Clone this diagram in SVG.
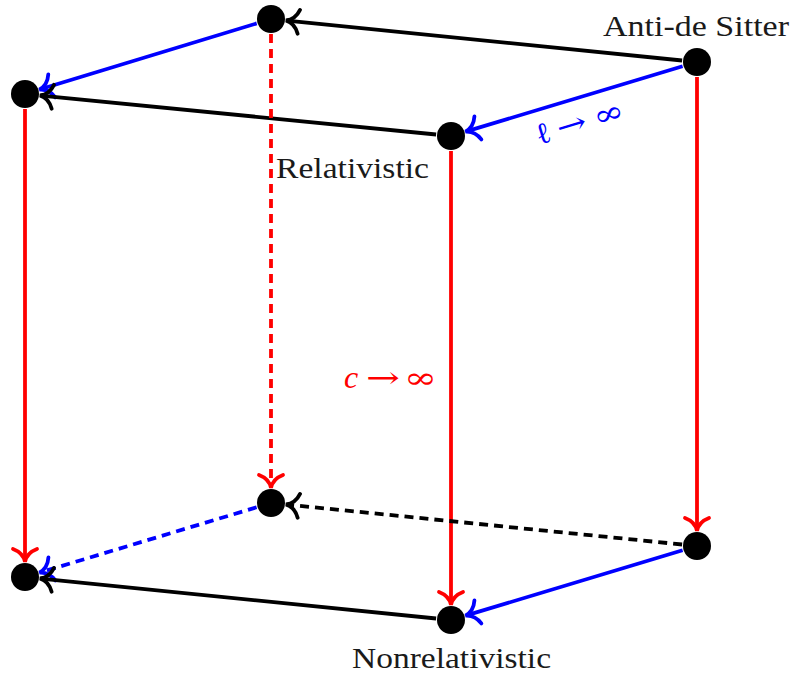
<svg xmlns="http://www.w3.org/2000/svg" width="792" height="675" viewBox="0 0 792 675">
<style>
.e{fill:none;stroke-width:3.8}
.k{stroke:#000}
.b{stroke:#0000ff}
.r{stroke:#ff0000}
.d{stroke-dasharray:9,6}
.n{fill:#000}
.t{font-family:"Liberation Serif","DejaVu Serif",serif;font-size:29px;fill:#1a1a1a}
.m{font-family:"DejaVu Serif","Liberation Serif",serif;font-size:30px}
</style>
<defs>
<marker id="mk" viewBox="-18 -16 22 32" markerWidth="22" markerHeight="32" refX="0" refY="0" orient="auto" markerUnits="userSpaceOnUse"><path d="M-12,-12 C-9,-4 -4,-1 1,0 C-4,1 -9,4 -12,12" fill="none" stroke="#000" stroke-width="3.8" stroke-linecap="round"/></marker>
<marker id="mb" viewBox="-18 -16 22 32" markerWidth="22" markerHeight="32" refX="0" refY="0" orient="auto" markerUnits="userSpaceOnUse"><path d="M-12,-12 C-9,-4 -4,-1 1,0 C-4,1 -9,4 -12,12" fill="none" stroke="#0000ff" stroke-width="3.8" stroke-linecap="round"/></marker>
<marker id="mr" viewBox="-18 -16 22 32" markerWidth="22" markerHeight="32" refX="0" refY="0" orient="auto" markerUnits="userSpaceOnUse"><path d="M-12,-12 C-9,-4 -4,-1 1,0 C-4,1 -9,4 -12,12" fill="none" stroke="#ff0000" stroke-width="3.8" stroke-linecap="round"/></marker>
</defs>
<g id="connectors">
<line class="e k" x1="682.1" y1="60.5" x2="286.9" y2="20.6" marker-end="url(#mk)"/>
<line class="e b" x1="256.7" y1="23.4" x2="40.3" y2="89.3" marker-end="url(#mb)"/>
<line class="e k" x1="436.1" y1="134.5" x2="40.9" y2="95.6" marker-end="url(#mk)"/>
<line class="e b" x1="682.6" y1="66.3" x2="466.4" y2="131.4" marker-end="url(#mb)"/>
<line class="e r d" x1="271" y1="34" x2="271" y2="487" marker-end="url(#mr)"/>
<line class="e r" x1="25" y1="109" x2="25" y2="561" marker-end="url(#mr)"/>
<line class="e r" x1="451" y1="151" x2="451" y2="604" marker-end="url(#mr)"/>
<line class="e r" x1="697" y1="77" x2="697" y2="530" marker-end="url(#mr)"/>
<line class="e k d" x1="682.1" y1="544.5" x2="286.9" y2="504.6" marker-end="url(#mk)"/>
<line class="e b d" x1="256.6" y1="507.3" x2="40.4" y2="572.4" marker-end="url(#mb)"/>
<line class="e k" x1="436.1" y1="618.5" x2="40.9" y2="578.6" marker-end="url(#mk)"/>
<line class="e b" x1="682.6" y1="550.3" x2="466.4" y2="615.4" marker-end="url(#mb)"/>
</g>
<g id="n1"><circle class="n" cx="271" cy="19" r="14"/></g>
<g id="n2"><circle class="n" cx="697" cy="62" r="14"/><text class="t" x="603" y="36" textLength="186" lengthAdjust="spacingAndGlyphs">Anti-de Sitter</text></g>
<g id="n3"><circle class="n" cx="25" cy="94" r="14"/></g>
<g id="n4"><circle class="n" cx="451" cy="136" r="14"/><text class="t" x="276" y="178" textLength="153" lengthAdjust="spacingAndGlyphs">Relativistic</text></g>
<g id="n5"><circle class="n" cx="271" cy="503" r="14"/></g>
<g id="n6"><circle class="n" cx="697" cy="546" r="14"/></g>
<g id="n7"><circle class="n" cx="25" cy="577" r="14"/></g>
<g id="n8"><circle class="n" cx="451" cy="620" r="14"/><text class="t" x="352" y="668" textLength="199" lengthAdjust="spacingAndGlyphs">Nonrelativistic</text></g>
<g id="labels">
<text y="388" fill="#ff0000"><tspan x="344" font-family="Liberation Serif, serif" font-style="italic" font-size="32">c</tspan><tspan class="m" x="366" textLength="34" lengthAdjust="spacingAndGlyphs">→</tspan><tspan class="m" x="404" textLength="33" lengthAdjust="spacingAndGlyphs">∞</tspan></text>
<text transform="translate(539,145) rotate(-16.7)" fill="#0000ff"><tspan x="0" y="0" font-family="Liberation Serif, serif" font-size="30">ℓ</tspan><tspan class="m" x="22" y="0" textLength="30" lengthAdjust="spacingAndGlyphs">→</tspan><tspan class="m" x="60" y="0" textLength="31" lengthAdjust="spacingAndGlyphs">∞</tspan></text>
</g>
</svg>
